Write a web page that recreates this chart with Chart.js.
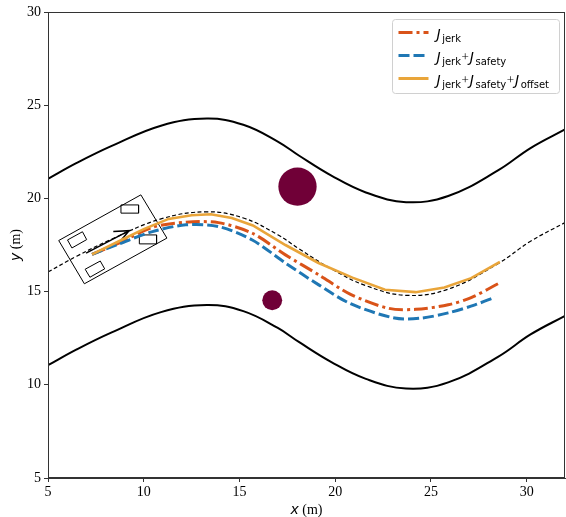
<!DOCTYPE html>
<html>
<head>
<meta charset="utf-8">
<script src="https://cdn.jsdelivr.net/npm/chart.js@4.4.0/dist/chart.umd.min.js"></script>
<style>
  html, body { margin: 0; padding: 0; background: #fff; }
  #wrap { width: 566px; height: 517px; }
</style>
</head>
<body>
<div id="wrap"><canvas id="chart" width="566" height="517"></canvas></div>
<script>
// road edges and centre line
const roadX = [5, 6.5, 8.3, 10.9, 13.3, 15.2, 17, 18.1, 19.8, 21.6, 23.7, 25.9, 28.5, 30.2, 32];
const roadUpper = [21.05, 21.9, 22.8, 23.9, 24.28, 23.95, 23.05, 22.3, 21.22, 20.32, 19.8, 20.13, 21.5, 22.7, 23.7];
const roadCenter = [16.05, 16.9, 17.8, 18.9, 19.28, 18.95, 18.05, 17.3, 16.22, 15.32, 14.8, 15.13, 16.5, 17.7, 18.7];
const roadLower = [11.05, 11.9, 12.8, 13.9, 14.28, 13.95, 13.05, 12.3, 11.22, 10.32, 9.8, 10.13, 11.5, 12.7, 13.7];

// planned trajectories
const jerkX = [7.3, 8.7, 10.46, 12.2, 13.9, 15.67, 17.4, 19.14, 20.8, 22.8, 24.2, 25.9, 27.1, 28.5];
const jerkY = [17.0, 17.6, 18.45, 18.72, 18.7, 18.13, 16.97, 15.9, 14.85, 14.1, 14.05, 14.29, 14.68, 15.42];
const safetyX = [7.3, 8.7, 10.46, 12.2, 13.9, 15.67, 17.4, 19.14, 20.8, 23.1, 24.5, 25.9, 27.3, 28.34];
const safetyY = [17.0, 17.55, 18.22, 18.58, 18.49, 17.77, 16.53, 15.36, 14.35, 13.58, 13.58, 13.86, 14.29, 14.7];
const offsetX = [7.3, 8.7, 10.0, 11.3, 12.5, 13.5, 14.6, 15.7, 17.4, 19.1, 20.9, 22.6, 24.2, 25.7, 27.1, 28.6];
const offsetY = [17.0, 17.7, 18.35, 18.9, 19.1, 19.15, 18.95, 18.55, 17.5, 16.55, 15.75, 15.1, 14.97, 15.22, 15.72, 16.6];

// obstacles (centre, radius in m)
const obstacleX = [18.03, 16.71];
const obstacleY = [20.63, 14.54];
const obstacleR = [1.0, 0.52];

// vehicle body, wheels and heading arrow
const carX = [9.85, 11.21, 6.9, 5.56, 9.85];
const carY = [20.19, 17.87, 15.42, 17.74, 20.19];
const wheelsX = [
  [8.81, 9.73, 9.73, 8.81, 8.81],
  [9.77, 10.67, 10.67, 9.77, 9.77],
  [7.02, 6.80, 6.02, 6.25, 7.02],
  [7.96, 7.73, 6.94, 7.19, 7.96]
];
const wheelsY = [
  [19.65, 19.65, 19.21, 19.21, 19.65],
  [18.04, 18.04, 17.56, 17.56, 18.04],
  [17.79, 18.21, 17.77, 17.34, 17.79],
  [16.22, 16.64, 16.20, 15.77, 16.22]
];
const arrowX = [6.99, 9.24];
const arrowY = [17.06, 18.27];
const arrowHeadX = [8.41, 9.24, 8.86];
const arrowHeadY = [18.22, 18.27, 17.81];

const xTicks = [5, 10, 15, 20, 25, 30];
const yTicks = [5, 10, 15, 20, 25, 30];

const legendTerms = [["jerk"], ["jerk", "safety"], ["jerk", "safety", "offset"]];
const legendColors = ["#D95319", "#1f77b4", "#E9A53A"];
const legendDashes = [[14, 4, 3, 4], [11, 4], []];

function pts(xs, ys) {
  return xs.map((x, i) => ({ x: x, y: ys[i] }));
}

function line(xs, ys, color, width, dash, tension) {
  return {
    data: pts(xs, ys),
    showLine: true,
    borderColor: color,
    borderWidth: width,
    borderDash: dash || [],
    tension: tension || 0,
    pointRadius: 0,
    fill: false
  };
}

const datasets = [
  line(roadX, roadUpper, "#000", 2, [], 0.4),
  line(roadX, roadLower, "#000", 2, [], 0.4),
  line(carX, carY, "#000", 1, [], 0),
  ...wheelsX.map((wx, i) => line(wx, wheelsY[i], "#000", 1, [], 0)),
  line(roadX, roadCenter, "#000", 1.2, [4, 2.5], 0.4),
  line(arrowX, arrowY, "#000", 1.5, [], 0),
  line(arrowHeadX, arrowHeadY, "#000", 1.5, [], 0),
  line(jerkX, jerkY, legendColors[0], 3, legendDashes[0], 0.3),
  line(safetyX, safetyY, legendColors[1], 3, legendDashes[1], 0.3),
  line(offsetX, offsetY, legendColors[2], 2.6, legendDashes[2], 0),
  {
    data: obstacleX.map((x, i) => ({ x: x, y: obstacleY[i], r: obstacleR[i] })),
    showLine: false,
    backgroundColor: "#700037",
    borderWidth: 0,
    pointRadius: c => {
      const s = c.chart.scales.x;
      return s.getPixelForValue(c.raw.x + c.raw.r) - s.getPixelForValue(c.raw.x);
    }
  }
];
// first listed is drawn first
datasets.forEach((d, i) => { d.order = datasets.length - i; });

const framePlugin = {
  id: "frame",
  afterDraw(chart) {
    const ctx = chart.ctx;
    const a = chart.chartArea;
    ctx.save();
    ctx.strokeStyle = "#333";
    ctx.lineWidth = 1;
    ctx.strokeRect(a.left + 0.5, a.top + 0.5, a.right - a.left - 1, a.bottom - a.top - 1);

    // axis titles
    ctx.fillStyle = "#000";
    ctx.textBaseline = "alphabetic";
    function title(cx, cy, letter) {
      ctx.font = 'italic 14px "DejaVu Sans"';
      const w1 = ctx.measureText(letter).width;
      ctx.font = '14px "Liberation Serif"';
      const w2 = ctx.measureText(" (m)").width;
      let x = cx - (w1 + w2) / 2;
      ctx.font = 'italic 14px "DejaVu Sans"';
      ctx.fillText(letter, x, cy);
      ctx.font = '14px "Liberation Serif"';
      ctx.fillText(" (m)", x + w1, cy);
    }
    title((a.left + a.right) / 2, 514, "x");
    ctx.save();
    ctx.translate(20, (a.top + a.bottom) / 2);
    ctx.rotate(-Math.PI / 2);
    title(0, 0, "y");
    ctx.restore();

    // legend
    const bx = a.right - 172.5, by = a.top + 7.5, bw = 167, bh = 74;
    ctx.beginPath();
    ctx.roundRect(bx, by, bw, bh, 3);
    ctx.fillStyle = "rgba(255,255,255,0.85)";
    ctx.fill();
    ctx.strokeStyle = "#d0d0d0";
    ctx.lineWidth = 1;
    ctx.stroke();

    legendTerms.forEach((terms, i) => {
      const ly = by + 13 + i * 23;
      ctx.beginPath();
      ctx.setLineDash(legendDashes[i]);
      ctx.strokeStyle = legendColors[i];
      ctx.lineWidth = 3;
      ctx.moveTo(bx + 6, ly);
      ctx.lineTo(bx + 36, ly);
      ctx.stroke();
      ctx.setLineDash([]);

      let x = bx + 44;
      const base = ly + 6;
      ctx.fillStyle = "#000";
      terms.forEach((t, k) => {
        if (k > 0) {
          ctx.font = '13px "Liberation Serif"';
          x += 0.5;
          ctx.fillText("+", x, base - 1);
          x += ctx.measureText("+").width + 1;
        }
        ctx.font = 'italic 14px "DejaVu Sans"';
        ctx.fillText("J", x, base);
        x += ctx.measureText("J").width + 1.5;
        ctx.font = '10px "DejaVu Sans"';
        ctx.fillText(t, x, base + 3);
        x += ctx.measureText(t).width;
      });
    });
    ctx.restore();
  }
};

const tickFont = { family: "Liberation Serif", size: 14 };

new Chart(document.getElementById("chart"), {
  type: "scatter",
  data: { datasets: datasets },
  options: {
    responsive: false,
    animation: false,
    events: [],
    devicePixelRatio: 1,
    layout: { padding: { top: 12, right: 1, bottom: 0, left: 0 } },
    plugins: { legend: { display: false }, tooltip: { enabled: false } },
    scales: {
      x: {
        type: "linear",
        min: 5,
        max: 32,
        afterBuildTicks: s => { s.ticks = xTicks.map(v => ({ value: v })); },
        afterFit: s => { s.height = 39; },
        ticks: { font: tickFont, color: "#000", padding: 2, maxRotation: 0 },
        grid: { drawOnChartArea: false, drawTicks: true, tickLength: 4, color: "#333" },
        border: { display: true, color: "#333" }
      },
      y: {
        type: "linear",
        min: 5,
        max: 30,
        afterBuildTicks: s => { s.ticks = yTicks.map(v => ({ value: v })); },
        afterFit: s => { s.width = 48; },
        ticks: { font: tickFont, color: "#000", padding: 3 },
        grid: { drawOnChartArea: false, drawTicks: true, tickLength: 4, color: "#333" },
        border: { display: true, color: "#333" }
      }
    }
  },
  plugins: [framePlugin]
});
</script>
</body>
</html>
